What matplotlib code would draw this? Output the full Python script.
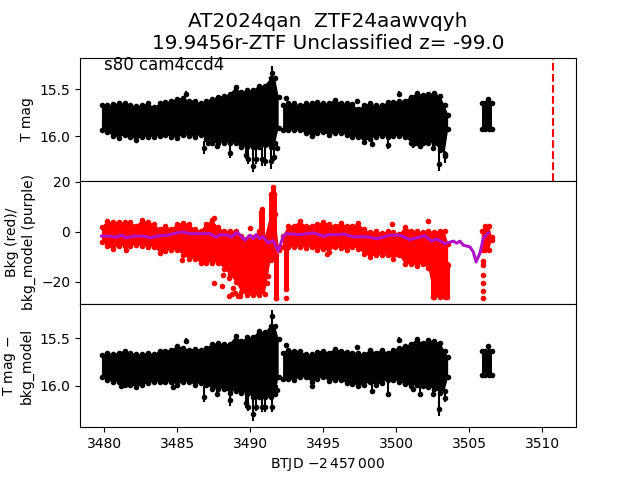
import numpy as np
import matplotlib
matplotlib.use("Agg")
import matplotlib.pyplot as plt

nan = float("nan")

# time columns of the dense part of the light curve, nan splits the three chunks
t_bulk = [3479.85, 3480.2, 3480.6, 3481.0, 3481.4, 3481.8, 3482.2, 3482.6, 3483.0, 3483.4, 3483.8,
          3484.2, 3484.6, 3485.0, 3485.4, 3485.8, 3486.2, 3486.6, 3487.0, 3487.4, 3487.8, 3488.2,
          3488.6, 3489.0, 3489.4, 3489.8, 3490.2, 3490.6, 3491.0, 3491.4, 3491.7, 3491.95, nan,
          3492.25, 3492.6, 3493.0, 3493.4, 3493.8, 3494.2, 3494.6, 3495.0, 3495.4, 3495.8, 3496.2,
          3496.6, 3497.0, 3497.4, 3497.8, 3498.2, 3498.6, 3499.0, 3499.4, 3499.8, 3500.2, 3500.6,
          3501.0, 3501.4, 3501.8, 3502.2, 3502.6, 3503.0, 3503.3, 3503.55, nan,
          3505.85, 3506.1, 3506.35, 3506.55]

# top panel: T mag
mag_bright = [15.67, 15.67, 15.66, 15.65, 15.65, 15.67, 15.68, 15.67, 15.65, 15.69, 15.65,
              15.64, 15.62, 15.60, 15.59, 15.62, 15.62, 15.65, 15.62, 15.60, 15.58, 15.57,
              15.55, 15.48, 15.53, 15.51, 15.51, 15.46, 15.46, 15.38, 15.38, 15.58, nan,
              15.67, 15.65, 15.65, 15.67, 15.65, 15.65, 15.64, 15.65, 15.65, 15.61, 15.65,
              15.65, 15.66, 15.71, 15.67, 15.65, 15.67, 15.67, 15.64, 15.64, 15.62, 15.62,
              15.58, 15.54, 15.56, 15.55, 15.54, 15.57, 15.67, 15.77, nan,
              15.65, 15.65, 15.65, 15.65]
mag_faint = [15.94, 15.96, 16.00, 16.02, 15.99, 16.01, 16.04, 16.01, 16.01, 16.01, 16.00,
             15.99, 16.01, 16.02, 15.99, 16.00, 16.01, 15.99, 16.03, 16.07, 16.08, 16.07,
             16.08, 16.08, 16.12, 16.12, 16.12, 16.12, 16.10, 16.12, 16.08, 15.91, nan,
             15.94, 15.94, 15.94, 15.94, 15.97, 15.99, 15.97, 15.96, 15.99, 15.97, 15.97,
             15.99, 16.01, 16.01, 16.06, 16.03, 16.01, 16.00, 16.01, 16.00, 16.00, 16.01,
             16.07, 16.08, 16.07, 16.07, 16.08, 16.15, 16.19, 15.93, nan,
             15.93, 15.93, 15.93, 15.93]
t_out = [3486.83, 3487.1, 3487.7, 3488.6, 3489.7, 3489.86, 3490.16, 3490.43, 3490.78, 3491.0, 3491.39,
         3491.62, 3491.85, 3491.46, 3485.6, 3492.44, 3494.2, 3500.2, 3497.28, 3498.35, 3499.45,
         3501.16, 3501.62, 3502.53, 3502.94, 3503.33, 3506.3]
mag_out = [16.13, 16.08, 16.11, 16.18, 16.20, 16.25, 16.32, 16.25, 16.25, 16.27, 16.27,
           16.22, 16.13, 15.32, 15.55, 15.59, 16.00, 15.55, 15.63, 16.09, 16.10,
           16.09, 16.11, 16.13, 16.30, 16.215, 15.60]
err_bright = [0.08, 0.04, 0.05, 0.12, 0.10, 0.15, 0.22, 0.15, 0.15, 0.17, 0.17,
              0.12, 0.05, 0.07, 0.03, 0.02, 0.06, 0.03, 0.02, 0.07, 0.10,
              0.05, 0.05, 0.06, 0.17, 0.05, 0.02]
err_faint = [0.06, 0.03, 0.03, 0.06, 0.05, 0.05, 0.07, 0.05, 0.07, 0.05, 0.08,
             0.05, 0.03, 0.10, 0.03, 0.02, 0.03, 0.03, 0.02, 0.03, 0.04,
             0.04, 0.03, 0.03, 0.08, 0.07, 0.02]

# middle panel: background
bkg_high = [1.9, 4.3, 3.9, 3.9, 3.9, 3.9, 2.5, 4.8, 3.9, 3.2, 1.2,
            2.5, 1.2, 3.2, 3.5, 3.2, 1.2, 0.5, 3.2, 4.8, 1.9, 0.5,
            0.5, 0.5, -1.5, -2.8, -2.1, 0.5, -2.1, 7.2, 7.2, -6.1, nan,
            -1.5, 2.5, 2.5, 4.3, 2.5, 2.5, 3.2, 3.9, 3.2, 2.5, 3.5,
            2.5, 2.5, 3.5, 1.2, -0.1, 0.3, -0.5, 0.3, -0.1, -0.8, 1.9,
            0.5, 0.5, -0.1, 0.5, -0.1, 0.5, 0.5, -4.8, nan,
            0.5, 2.5, 2.5, -2.1]
bkg_low = [-4.0, -5.6, -6.9, -5.6, -5.6, -5.6, -5.3, -5.6, -6.0, -6.0, -8.3,
           -7.7, -7.3, -7.3, -9.3, -10.7, -10.7, -12.3, -12.3, -12.3, -12.3, -14.7,
           -17.0, -20.0, -24.0, -25.3, -25.3, -25.3, -24.7, -11.3, -9.3, -7.3, nan,
           -6.0, -6.0, -6.0, -6.0, -6.4, -6.0, -7.3, -6.7, -8.0, -6.0, -6.4,
           -7.3, -6.0, -6.9, -8.7, -10.0, -9.3, -9.3, -9.3, -10.7, -9.3, -13.0,
           -12.7, -13.6, -12.7, -14.5, -26.1, -26.1, -26.1, -13.3, nan,
           -7.3, -7.3, -7.3, -3.3]
t_col = [3491.45, 3491.53, 3491.62, 3490.72, 3490.82, 3491.76, 3492.42, 3505.96, 3502.5, 3503.45]
col_high = [15.0, 17.9, 15.0, 8.0, 9.2, -9.3, -7.0, -11.7, -12.0, -13.0]
col_low = [-10.4, -10.4, -10.4, -2.0, -2.0, -26.4, -23.0, -13.3, -26.1, -26.1]
t_red = [3481.53, 3485.34, 3487.53, 3488.04, 3488.56, 3488.15, 3488.56, 3488.84, 3491.23, 3491.16,
         3489.98, 3487.53, 3495.23, 3499.73, 3502.19, 3503.45, 3503.06, 3492.42,
         3505.96, 3505.96, 3505.96, 3505.96, 3491.76, 3488.95, 3489.15, 3488.75, 3489.3]
bkg_red = [-7.3, -11.1, -20.4, -21.7, -25.7, -17.1, -18.4, -22.4, -17.7, -20.4,
           1.6, 5.6, -8.8, 3.2, 4.3, -13.7, -17.0, -26.4,
           -17.3, -20.4, -23.5, -26.4, -26.4, -24.5, -25.8, -25.0, -25.8]
t_model = [3479.82, 3480.27, 3480.84, 3481.19, 3481.53, 3481.99, 3482.67, 3483.24, 3483.58, 3484.38,
           3484.73, 3485.37, 3485.87, 3487.24, 3487.65, 3487.92, 3488.49, 3488.72, 3489.11, 3489.63,
           3489.98, 3490.21, 3490.39, 3490.66, 3490.89, 3491.23, 3491.58, 3491.92, 3492.26, 3492.49,
           3493.4, 3494.32, 3495.0, 3495.46, 3496.14, 3496.37, 3497.05, 3497.74, 3498.19, 3498.65,
           3499.56, 3500.25, 3500.93, 3501.62, 3501.96, 3502.42, 3502.76, 3503.33, 3503.9, 3504.13,
           3504.36, 3504.59, 3505.04, 3505.27, 3505.46, 3505.73, 3505.96, 3506.3]
bkg_model = [-1.7, -1.7, -2.1, -1.3, -2.4, -1.7, -1.7, -2.4, -1.7, -1.3,
             -0.7, 0.0, -0.7, -0.7, -2.1, -1.1, -1.3, -2.1, -0.1, -3.3,
             -1.3, -2.7, -1.1, -2.7, -1.9, -4.4, -3.5, -7.7, -1.7, -0.7,
             -1.1, -0.4, -1.7, -1.1, -1.1, -0.8, -2.0, -1.9, -2.1, -2.8,
             -1.3, -1.3, -3.1, -2.0, -1.5, -3.7, -2.8, -4.7, -3.7, -4.5,
             -3.7, -5.3, -6.0, -8.0, -12.0, -8.4, -2.4, -0.4]

# bottom panel: T mag - bkg_model
sub_bright = [15.68, 15.65, 15.67, 15.65, 15.63, 15.65, 15.67, 15.67, 15.65, 15.67, 15.63,
              15.63, 15.62, 15.58, 15.60, 15.62, 15.61, 15.62, 15.60, 15.56, 15.55, 15.56,
              15.56, 15.48, 15.53, 15.49, 15.49, 15.42, 15.44, 15.37, 15.37, 15.51, nan,
              15.65, 15.62, 15.63, 15.63, 15.67, 15.67, 15.64, 15.63, 15.65, 15.61, 15.63,
              15.64, 15.65, 15.65, 15.67, 15.62, 15.65, 15.62, 15.65, 15.62, 15.60, 15.58,
              15.56, 15.51, 15.55, 15.52, 15.53, 15.55, 15.63, 15.70, nan,
              15.63, 15.63, 15.63, 15.63]
sub_faint = [15.91, 15.94, 15.96, 15.96, 15.99, 15.99, 16.01, 15.99, 15.97, 15.96, 15.96,
             15.96, 15.96, 15.99, 15.96, 15.96, 15.99, 15.97, 15.99, 16.03, 16.03, 16.03,
             16.07, 16.05, 16.07, 16.08, 16.12, 16.12, 16.12, 16.12, 16.08, 15.91, nan,
             15.93, 15.93, 15.94, 15.91, 15.91, 15.96, 15.93, 15.91, 15.95, 15.94, 15.94,
             15.97, 15.98, 16.00, 15.99, 15.96, 15.99, 15.97, 15.94, 15.94, 15.96, 15.98,
             16.00, 15.99, 16.00, 16.01, 16.03, 16.07, 16.05, 15.91, nan,
             15.89, 15.89, 15.89, 15.89]
t_sub = [3481.14, 3484.73, 3485.6, 3486.83, 3487.7, 3488.6, 3489.7, 3489.86, 3490.16, 3490.43, 3490.78,
         3491.0, 3491.46, 3491.85, 3491.46, 3492.44, 3494.2, 3497.28, 3498.35, 3499.45, 3500.2,
         3501.16, 3501.62, 3502.53, 3502.94, 3503.33, 3506.3]
sub_out = [16.00, 16.01, 15.53, 16.12, 16.08, 16.15, 16.18, 16.22, 16.29, 16.22, 16.22,
           16.22, 16.22, 16.04, 15.27, 15.57, 16.00, 15.59, 16.05, 16.08, 15.52,
           16.03, 16.08, 16.08, 16.24, 16.13, 15.58]
sub_err_bright = [0.03, 0.03, 0.03, 0.12, 0.06, 0.10, 0.08, 0.12, 0.20, 0.12, 0.12,
                  0.12, 0.12, 0.05, 0.07, 0.02, 0.03, 0.02, 0.10, 0.12, 0.03,
                  0.05, 0.08, 0.08, 0.20, 0.10, 0.02]
sub_err_faint = [0.03, 0.03, 0.03, 0.05, 0.03, 0.06, 0.05, 0.04, 0.08, 0.04, 0.05,
                 0.05, 0.05, 0.03, 0.12, 0.02, 0.03, 0.02, 0.03, 0.03, 0.03,
                 0.03, 0.03, 0.03, 0.07, 0.04, 0.02]

t_marker = 3510.7
fig, (ax1, ax2, ax3) = plt.subplots(3, 1, sharex=True)
fig.subplots_adjust(hspace=0)


def black_panel(ax, bright, faint, t_pts, y_pts, err_b, err_f):
    ax.fill_between(t_bulk, bright, faint, color="k", lw=0)
    ax.plot(t_bulk, bright, "k.")
    ax.plot(t_bulk, faint, "k.")
    ax.errorbar(t_pts, y_pts, yerr=[err_b, err_f], fmt="k.", ecolor="k", elinewidth=1.5)


black_panel(ax1, mag_bright, mag_faint, t_out, mag_out, err_bright, err_faint)
ax1.axvline(t_marker, color="r", ls="--", lw=1.5)
ax1.text(3480, 15.29, "s80 cam4ccd4", fontsize=12)
ax1.set_ylim(16.48, 15.16)
ax1.set_yticks([15.5, 16.0])
ax1.set_ylabel("T mag")
ax1.set_title("AT2024qan  ZTF24aawvqyh\n19.9456r-ZTF Unclassified z= -99.0", fontsize=14.4)

ax2.fill_between(t_bulk, bkg_high, bkg_low, color="r", lw=0)
ax2.plot(t_bulk, bkg_high, "r.")
ax2.plot(t_bulk, bkg_low, "r.")
ax2.vlines(t_col, col_low, col_high, color="r", lw=3.6)
ax2.plot(t_col, col_high, "r.")
ax2.plot(t_col, col_low, "r.")
ax2.plot(t_red, bkg_red, "r.")
ax2.plot(t_model, bkg_model, color="#b010c8", lw=2.2)
ax2.set_ylim(-28.8, 20.4)
ax2.set_yticks([-20, 0, 20])
ax2.set_ylabel("Bkg (red)/\nbkg_model (purple)")

black_panel(ax3, sub_bright, sub_faint, t_sub, sub_out, sub_err_bright, sub_err_faint)
ax3.set_ylim(16.432, 15.142)
ax3.set_yticks([15.5, 16.0])
ax3.set_ylabel("T mag $-$\nbkg_model")
ax3.set_xlabel(r"BTJD $-2\,457\,000$")
ax3.set_xlim(3478.35, 3512.3)
ax3.set_xticks([3480, 3485, 3490, 3495, 3500, 3505, 3510])

ax1.tick_params(bottom=False)
ax2.tick_params(bottom=False)

plt.savefig("out.png", dpi=100)
